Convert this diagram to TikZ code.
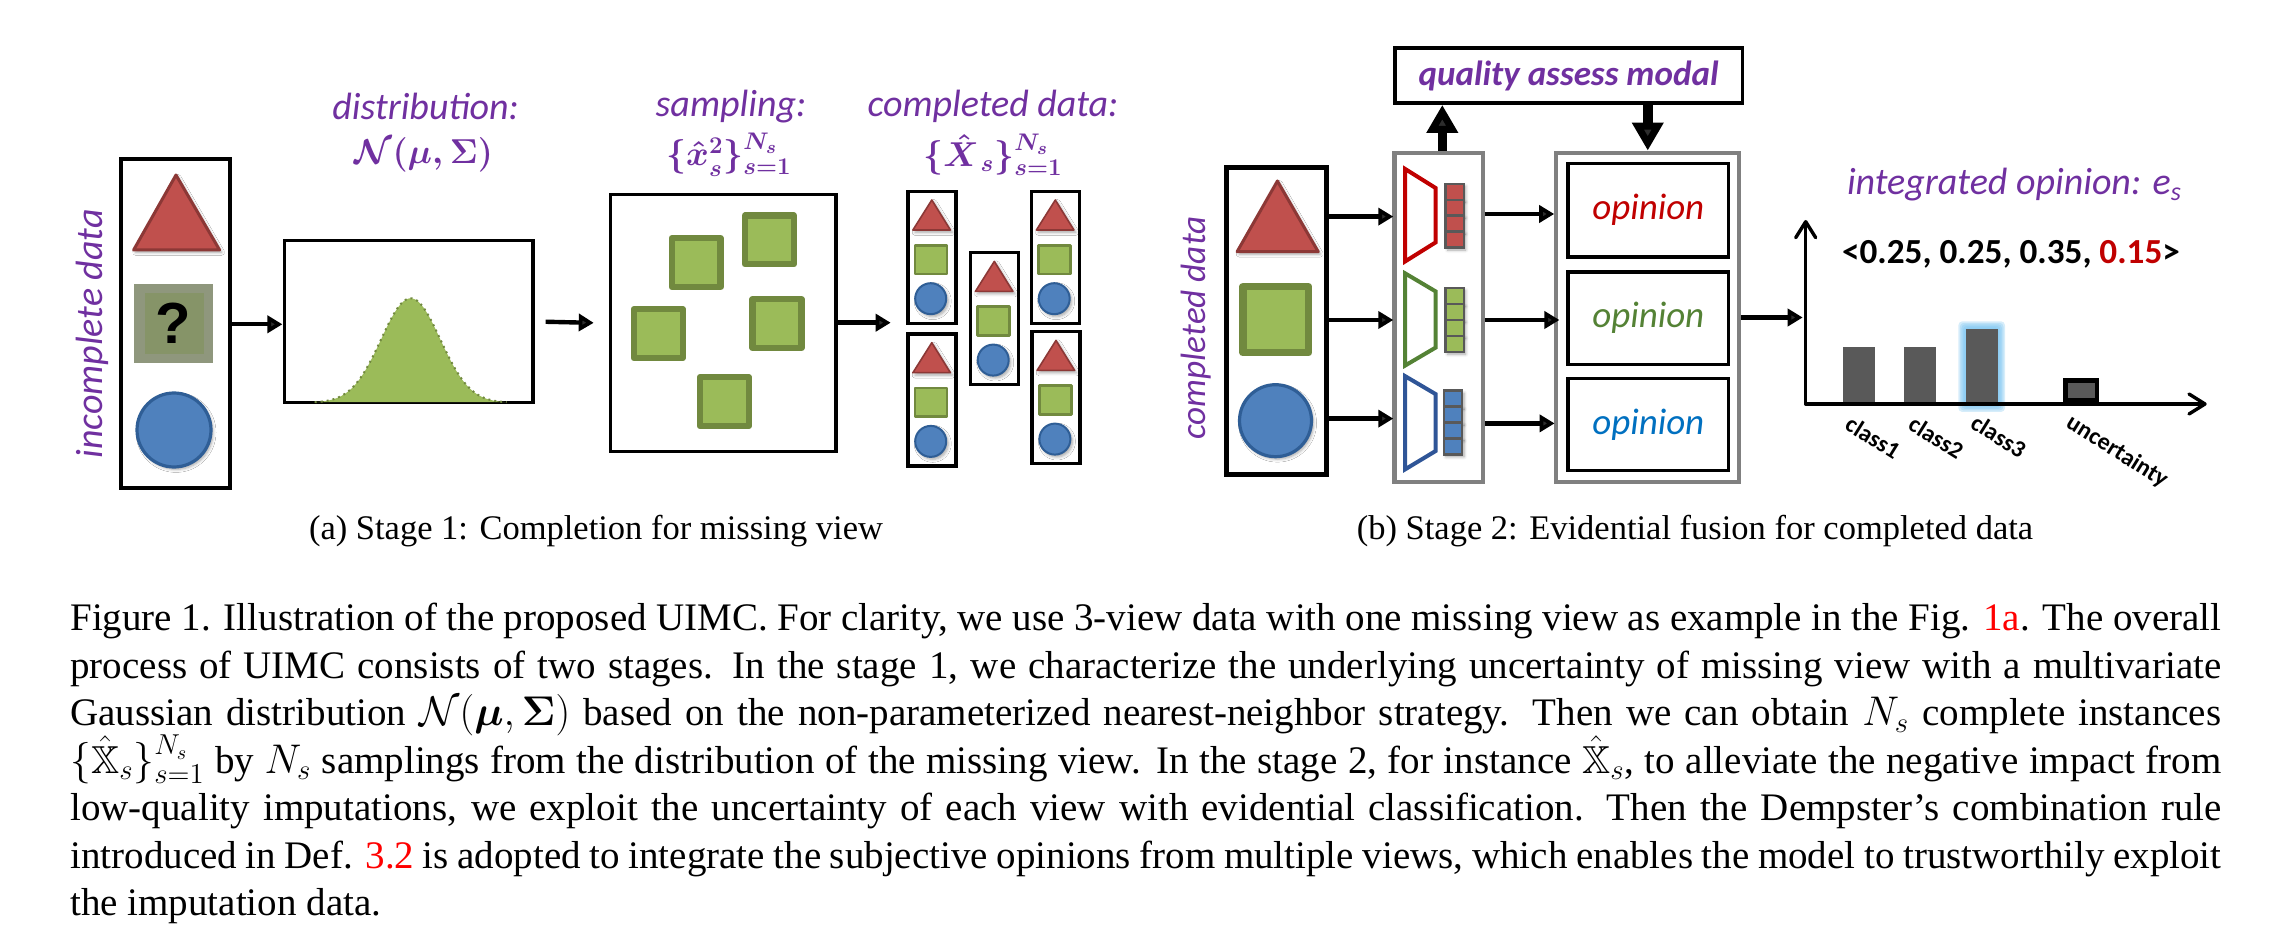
\documentclass[tikz,border=0pt]{standalone}
\usepackage{amsmath}
\usepackage{amssymb}
\usepackage{bm}
\usepackage[no-math]{fontspec}
\usepackage{tikz}
\usetikzlibrary{arrows.meta}
\usetikzlibrary{fadings}
\usetikzlibrary{shadows.blur}
\setmainfont{Liberation Serif}
\newfontfamily\calfont{Carlito}
\newfontfamily\arialfont{Liberation Sans}
\definecolor{labelpurple}{RGB}{112,48,160}
\definecolor{trired}{RGB}{192,80,77}
\definecolor{triedge}{RGB}{140,56,54}
\definecolor{sqgreen}{RGB}{155,187,89}
\definecolor{sqedge}{RGB}{113,137,63}
\definecolor{dotblue}{RGB}{79,129,189}
\definecolor{dotedge}{RGB}{47,94,150}
\definecolor{opred}{RGB}{192,0,0}
\definecolor{opgreen}{RGB}{84,130,53}
\definecolor{opblue}{RGB}{0,112,192}
\definecolor{encblue}{RGB}{47,85,151}
\definecolor{glowblue}{RGB}{120,195,240}
\tikzset{
	softshadow/.style={blur shadow={shadow blur steps=5,shadow xshift=1pt,shadow yshift=-1.2pt,shadow blur radius=1.5pt,shadow opacity=35}},
	blackbox/.style={draw=black,line width=1.7pt,inner sep=0pt,fill=white},
	greybox/.style={draw=black!50,line width=2.2pt,inner sep=0pt},
	tri/.style={draw=triedge,fill=trired,line width=1.5pt,line join=round,softshadow},
	tinytri/.style={draw=triedge,fill=trired,line width=0.8pt,line join=round,softshadow},
	sqr/.style={draw=sqedge,fill=sqgreen,line join=round},
	dot/.style={draw=dotedge,fill=dotblue,line width=1.6pt,softshadow},
	tinydot/.style={draw=dotedge,fill=dotblue,line width=1pt,softshadow},
	thinarrow/.style={line width=2.2pt,-{Triangle[length=7.5pt,width=8.5pt]}},
	fatarrow/.style={line width=4.8pt,-{Triangle[length=14pt,width=15pt]}},
	axisline/.style={line width=1.7pt,line cap=round,-{Straight Barb[length=8pt,width=10pt,line width=1.7pt,round]}},
	heading/.style={font=\calfont\itshape\fontsize{19}{23}\selectfont,text=labelpurple,inner sep=0pt},
	mathhead/.style={font=\boldmath\fontsize{18}{20}\selectfont,text=labelpurple,inner sep=0pt},
	oplabel/.style={font=\calfont\itshape\fontsize{18.5}{23}\selectfont,inner sep=0pt},
	ticklabel/.style={font=\calfont\bfseries\fontsize{12}{14}\selectfont,rotate=-32,inner sep=0pt},
	subcap/.style={font=\fontsize{17.25}{21}\selectfont,inner sep=0pt},
	cell/.style={draw=black!65,line width=1.2pt,softshadow},
	bar/.style={fill=black!65,inner sep=0pt,minimum width=16pt}
}
\begin{document}
\begin{tikzpicture}[x=0.5pt,y=0.5pt,yscale=-1,xscale=1]
		\useasboundingbox (0,0) rectangle (2288,952);

		% Stage 1: incomplete data
		\node [blackbox,line width=2.2pt,minimum width=54.5pt,minimum height=164.4pt] (incomplete) at (175.2,323.6) {};
		\draw [tri] (176,175) -- (219.6,250) -- (133.6,250) -- cycle;
		\fill [sqedge!60!black!60!white] (133.6,284) rectangle (212.5,363.3);
		\fill [sqgreen!60!black!75!white] (144.5,293) rectangle (204,354);
		\draw [dot] (174,430) circle [radius=37];
		\node [font=\arialfont\bfseries\fontsize{29}{32}\selectfont,inner sep=0pt] (missing) at (173,323) {?};
		\node [heading,rotate=90] (lblincomplete) at (92,334) {incomplete data};

		% Stage 1: distribution
		\node [heading] (ttldist) at (425.7,106.7) {distribution:};
		\node [mathhead,font=\boldmath\fontsize{17}{20}\selectfont] (mathdist) at (424,155) {$\mathcal{N}(\mu,\Sigma)$};
		\node [blackbox,minimum width=124.3pt,minimum height=81.2pt] (gauss) at (408.6,321.5) {};
		\fill [sqgreen] plot [domain=-96:96,samples=70] ({410.7+\x},{402.7-104.4*exp(-0.5*(\x/29.6)^2)}) -- cycle;
		\draw [sqedge,line width=1pt,dotted] plot [domain=-96:96,samples=70] ({410.7+\x},{402.7-104.4*exp(-0.5*(\x/29.6)^2)});
		\coordinate (gaussin) at (282.4,324.3);
		\draw [thinarrow] (incomplete.east |- gaussin) -- (gaussin);

		% Stage 1: sampling
		\node [heading] (ttlsampling) at (731,106.7) {sampling:};
		\node [mathhead] (mathsampling) at (729,155) {$\{\hat{x}_s^2\}_{s=1}^{N_s}$};
		\node [blackbox,minimum width=112.8pt,minimum height=128.5pt] (sampling) at (723.2,323.2) {};
		\foreach \sx/\sy in {668.6/235,741.8/212.3,630.7/306,749.3/296,696.8/374}
			\draw [sqr,line width=3.2pt] (\sx+3.2,\sy+3.2) rectangle (\sx+52,\sy+52);
		\draw [thinarrow,shorten <=5.5pt,shorten >=7.5pt] (gauss.east) -- (sampling.west);

		% Stage 1: completed data
		\node [heading] (ttlcompleted) at (993,106.7) {completed data:};
		\node [mathhead] (mathcompleted) at (993,155) {$\{\hat{X}_{\,s}\}_{s=1}^{N_s}$};
		\coordinate (minis) at (890.7,322.7);
		\draw [thinarrow] (sampling.east |- minis) -- (minis);
		\foreach \bx/\by/\bname in {907.9/191.3/a,907.9/334/b,970.4/252.7/c,1031.4/191.3/d,1032.1/331.7/e}
		{
			\begin{scope}[shift={(\bx,\by)}]
				\node [blackbox,minimum width=24pt,minimum height=66pt] (mini\bname) at (24,66) {};
				\draw [tinytri] (23.9,8.7) -- (42.5,38.7) -- (5,38.7) -- cycle;
				\draw [sqr,line width=1.4pt] (7,54) rectangle (39,82.7);
				\draw [tinydot] (22.8,107.4) circle [radius=15.5];
			\end{scope}
		}

		% Stage 1 caption
		\node [subcap] (capa) at (596,531) {(a) Stage 1: Completion for missing view};

		% Stage 2: completed data
		\node [blackbox,line width=2.2pt,minimum width=50pt,minimum height=153.5pt] (completed) at (1276.4,321) {};
		\draw [tri] (1277.4,181) -- (1318.2,251.7) -- (1237.1,251.7) -- cycle;
		\draw [sqr,line width=3.8pt] (1243,286.7) rectangle (1308.6,352.7);
		\draw [dot] (1275.5,420.7) circle [radius=36];
		\node [heading,rotate=90,font=\calfont\itshape\fontsize{17.6}{21}\selectfont] (lblcompleted) at (1196.4,328) {completed data};

		% Stage 2: quality and encoders
		\node [blackbox,minimum width=173.7pt,minimum height=27.6pt,font=\calfont\bfseries\itshape\fontsize{17.5}{21}\selectfont,text=labelpurple] (quality) at (1568.6,75.6) {quality assess modal};
		\node [greybox,minimum width=44.1pt,minimum height=164.6pt] (enc) at (1438.6,317.4) {};
		\node [greybox,minimum width=91.5pt,minimum height=164.6pt] (opouter) at (1647.75,317.4) {};
		\coordinate (upx) at (1442.3,130);
		\draw [fatarrow] (enc.north -| upx) -- (quality.south -| upx);
		\draw [fatarrow] (quality.south -| opouter.north) -- (opouter.north);
		\draw [opred,line width=2pt,line join=miter] (1405.2,169) -- (1435.6,188) -- (1435.6,242.4) -- (1405.2,261.4) -- cycle;
		\draw [opgreen,line width=2pt,line join=miter] (1405.2,273.4) -- (1435.6,291.4) -- (1435.6,347.6) -- (1405.2,365.5) -- cycle;
		\draw [encblue,line width=2pt,line join=miter] (1405.2,376.2) -- (1435.6,394.1) -- (1435.6,451) -- (1405.2,469.3) -- cycle;
		\foreach \cx/\cy/\cfill in {1445.5/183.8/trired,1445.5/288/sqgreen,1443.9/390.7/dotblue}
			\foreach \i in {0,1,2,3}
				\draw [cell,fill=\cfill] (\cx,\cy+\i*15.95) rectangle (\cx+18.2,\cy+\i*15.95+15.95);

		% Stage 2: opinions
		\node [blackbox,minimum width=80.3pt,minimum height=46.75pt,oplabel,text=opred] (opone) at (1648.3,210.15) {opinion};
		\node [blackbox,minimum width=80.3pt,minimum height=46.25pt,oplabel,text=opgreen] (optwo) at (1648.3,318.25) {opinion};
		\node [blackbox,minimum width=80.3pt,minimum height=46pt,oplabel,text=opblue] (opthree) at (1648.3,424.65) {opinion};

		% Stage 2 arrows
		\coordinate (encinone) at (1393.3,216.6);
		\coordinate (encintwo) at (1393.3,320);
		\coordinate (encinthree) at (1393.3,418.6);
		\coordinate (opinone) at (1554.2,214);
		\coordinate (opintwo) at (1559.4,320);
		\coordinate (opinthree) at (1554.6,423.4);
		\draw [thinarrow] (completed.east |- encinone) -- (encinone);
		\draw [thinarrow] (completed.east |- encintwo) -- (encintwo);
		\draw [thinarrow] (completed.east |- encinthree) -- (encinthree);
		\draw [thinarrow] (enc.east |- opinone) -- (opinone);
		\draw [thinarrow] (enc.east |- opintwo) -- (opintwo);
		\draw [thinarrow] (enc.east |- opinthree) -- (opinthree);

		% Stage 2: integrated opinion
		\coordinate (orig) at (1805.7,404);
		\coordinate (ytop) at (1805.7,220);
		\coordinate (xend) at (2206.7,404);
		\coordinate (chartin) at (1802.7,317.5);
		\draw [thinarrow] (opouter.east |- chartin) -- (chartin);
		\foreach \g in {8,6.5,5,3.5,2}
			\fill [glowblue,opacity=0.3,rounded corners=2pt] (1966.3-\g,329.3-\g) rectangle (1997+\g,404+\g);
		\node [bar,anchor=south,minimum height=28.2pt] (barone) at (1858.6,404) {};
		\node [bar,anchor=south,minimum height=28.2pt] (bartwo) at (1920.2,404) {};
		\node [bar,anchor=south,minimum height=37.4pt] (barthree) at (1981.6,404) {};
		\node [draw=black,fill=black!65,line width=2.3pt,inner sep=0pt,anchor=south,minimum width=15.8pt,minimum height=10.2pt] (baru) at (2081.3,403) {};
		\draw [axisline] (orig) -- (ytop);
		\draw [axisline] (orig) -- (xend);
		\node [heading] (ttlintegrated) at (2014,185) {integrated opinion: e\raisebox{-3pt}{\fontsize{13}{13}\selectfont s}};
		\node [font=\calfont\bfseries\fontsize{17.6}{22}\selectfont,inner sep=0pt] (values) at (2011,254) {<0.25, 0.25, 0.35, \textcolor{opred}{0.15}>};
		\node [ticklabel] (tickone) at (1873,437.3) {class1};
		\node [ticklabel] (ticktwo) at (1936.3,437.3) {class2};
		\node [ticklabel] (tickthree) at (1998.7,436) {class3};
		\node [ticklabel] (ticku) at (2117,451.7) {uncertainty};

		% Stage 2 caption
		\node [subcap] (capb) at (1695,531) {(b) Stage 2: Evidential fusion for completed data};

		% Figure text
		\node [anchor=north west,inner sep=0pt,text width=1075.5pt,align=justify,font=\fontsize{19.5}{23.75}\selectfont] (figtext) at (70,603) {\lineskiplimit=-30pt
			Figure 1. Illustration of the proposed UIMC. For clarity, we use 3-view data with one missing view as example in the Fig. \textcolor{red}{1a}. The overall\linebreak
			process of UIMC consists of two stages. In the stage 1, we characterize the underlying uncertainty of missing view with a multivariate\linebreak
			Gaussian distribution \smash{$\mathcal{N}(\bm{\mu},\bm{\Sigma})$} based on the non-parameterized nearest-neighbor strategy. Then we can obtain $N_s$ complete instances\linebreak
			\smash{$\{\hat{\mathbb{X}}_s\}_{s=1}^{N_s}$} by $N_s$ samplings from the distribution of the missing view. In the stage 2, for instance \smash{$\hat{\mathbb{X}}_s$}, to alleviate the negative impact from\linebreak
			low-quality imputations, we exploit the uncertainty of each view with evidential classification. Then the Dempster’s combination rule\linebreak
			introduced in Def. \textcolor{red}{3.2} is adopted to integrate the subjective opinions from multiple views, which enables the model to trustworthily exploit\linebreak
			the imputation data.};

\end{tikzpicture}
\end{document}
